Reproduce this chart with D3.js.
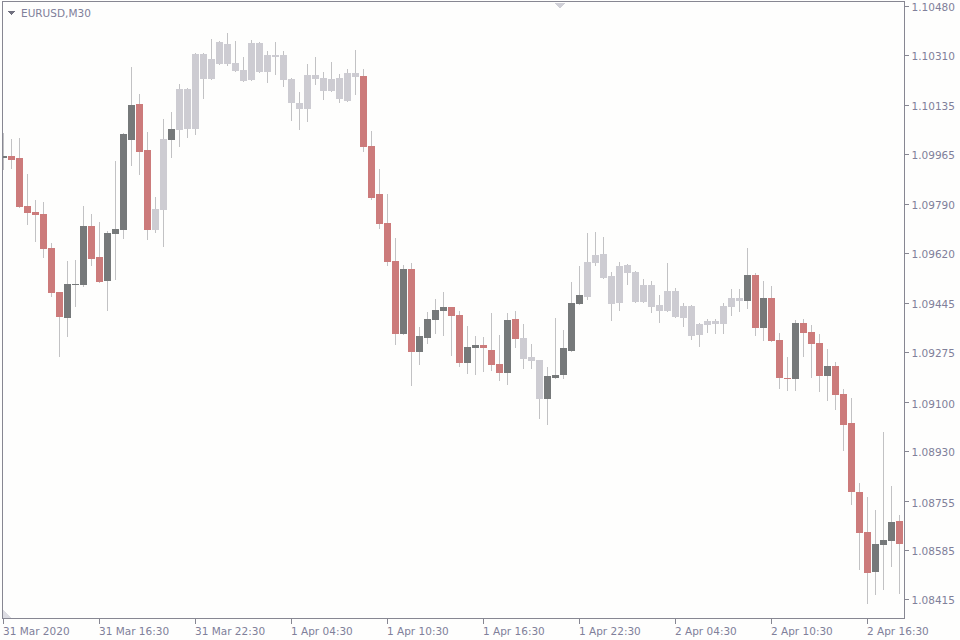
<!DOCTYPE html>
<html>
<head>
<meta charset="utf-8">
<script src="https://cdn.jsdelivr.net/npm/d3@7"></script>
<style>
  html, body { margin: 0; padding: 0; background: #fefefd; }
  svg { display: block; }
  text { font-family: "DejaVu Sans", sans-serif; font-size: 10.5px; fill: #80809a; }
</style>
</head>
<body>
<script>
// EURUSD M30 bars, 31 Mar 10:30 .. 2 Apr 18:30
const opens = [
  1.09951, 1.09958, 1.09951, 1.09784, 1.09763, 1.09756, 1.09637, 1.09484, 1.09394, 1.09508,
  1.09508, 1.09714, 1.09606, 1.09522, 1.09686, 1.09700, 1.10013, 1.10139, 1.09979, 1.09700,
  1.09770, 1.10013, 1.10048, 1.10191, 1.10052, 1.10313, 1.10226, 1.10278, 1.10348, 1.10281,
  1.10257, 1.10222, 1.10351, 1.10250, 1.10309, 1.10309, 1.10226, 1.10142, 1.10121, 1.10240,
  1.10229, 1.10184, 1.10229, 1.10149, 1.10247, 1.10236, 1.09992, 1.09825, 1.09724, 1.09592,
  1.09338, 1.09564, 1.09275, 1.09324, 1.09387, 1.09418, 1.09432, 1.09404, 1.09237, 1.09289,
  1.09300, 1.09282, 1.09233, 1.09202, 1.09390, 1.09324, 1.09258, 1.09247, 1.09112, 1.09185,
  1.09195, 1.09279, 1.09442, 1.09467, 1.09585, 1.09616, 1.09540, 1.09446, 1.09578, 1.09554,
  1.09449, 1.09508, 1.09439, 1.09418, 1.09488, 1.09394, 1.09435, 1.09334, 1.09369, 1.09383,
  1.09373, 1.09432, 1.09463, 1.09453, 1.09543, 1.09359, 1.09463, 1.09317, 1.09185, 1.09181,
  1.09376, 1.09345, 1.09307, 1.09192, 1.09226, 1.09129, 1.09028, 1.08788, 1.08649, 1.08509,
  1.08603, 1.08617, 1.08687
];
const highs = [
  1.10038, 1.10017, 1.10020, 1.09895, 1.09804, 1.09797, 1.09655, 1.09484, 1.09592, 1.09596,
  1.09784, 1.09756, 1.09728, 1.09697, 1.09940, 1.10038, 1.10268, 1.10174, 1.10041, 1.09815,
  1.10086, 1.10111, 1.10208, 1.10194, 1.10316, 1.10316, 1.10365, 1.10358, 1.10386, 1.10358,
  1.10302, 1.10362, 1.10355, 1.10323, 1.10355, 1.10323, 1.10229, 1.10181, 1.10278, 1.10302,
  1.10250, 1.10285, 1.10243, 1.10261, 1.10327, 1.10261, 1.10045, 1.09912, 1.09825, 1.09672,
  1.09578, 1.09585, 1.09362, 1.09414, 1.09460, 1.09484, 1.09432, 1.09418, 1.09366, 1.09331,
  1.09327, 1.09411, 1.09334, 1.09411, 1.09418, 1.09373, 1.09303, 1.09247, 1.09223, 1.09394,
  1.09352, 1.09519, 1.09575, 1.09690, 1.09693, 1.09676, 1.09554, 1.09589, 1.09582, 1.09557,
  1.09529, 1.09522, 1.09474, 1.09585, 1.09498, 1.09446, 1.09439, 1.09376, 1.09390, 1.09390,
  1.09446, 1.09495, 1.09495, 1.09637, 1.09550, 1.09522, 1.09505, 1.09341, 1.09258, 1.09387,
  1.09390, 1.09369, 1.09338, 1.09286, 1.09240, 1.09146, 1.09115, 1.08819, 1.08770, 1.08725,
  1.08997, 1.08809, 1.08708
];
const lows = [
  1.09909, 1.09912, 1.09777, 1.09717, 1.09658, 1.09603, 1.09467, 1.09258, 1.09327, 1.09432,
  1.09502, 1.09575, 1.09515, 1.09418, 1.09526, 1.09669, 1.09923, 1.09891, 1.09665, 1.09690,
  1.09641, 1.09951, 1.09989, 1.10020, 1.10031, 1.10156, 1.10222, 1.10275, 1.10271, 1.10250,
  1.10215, 1.10219, 1.10247, 1.10212, 1.10240, 1.10198, 1.10080, 1.10048, 1.10076, 1.10205,
  1.10153, 1.10181, 1.10142, 1.10146, 1.10170, 1.09972, 1.09804, 1.09703, 1.09575, 1.09300,
  1.09334, 1.09157, 1.09230, 1.09303, 1.09338, 1.09331, 1.09261, 1.09223, 1.09199, 1.09195,
  1.09206, 1.09209, 1.09174, 1.09160, 1.09289, 1.09216, 1.09216, 1.09042, 1.09021, 1.09181,
  1.09181, 1.09275, 1.09439, 1.09456, 1.09575, 1.09529, 1.09383, 1.09418, 1.09508, 1.09446,
  1.09446, 1.09411, 1.09376, 1.09414, 1.09394, 1.09362, 1.09317, 1.09293, 1.09341, 1.09338,
  1.09338, 1.09401, 1.09414, 1.09425, 1.09331, 1.09313, 1.09310, 1.09146, 1.09139, 1.09139,
  1.09258, 1.09185, 1.09136, 1.09105, 1.09073, 1.08930, 1.08742, 1.08516, 1.08398, 1.08429,
  1.08446, 1.08527, 1.08433
];
const closes = [
  1.09958, 1.09944, 1.09780, 1.09759, 1.09752, 1.09634, 1.09481, 1.09397, 1.09512, 1.09512,
  1.09714, 1.09599, 1.09519, 1.09690, 1.09703, 1.10034, 1.10135, 1.09972, 1.09700, 1.09773,
  1.10017, 1.10052, 1.10191, 1.10052, 1.10313, 1.10226, 1.10296, 1.10355, 1.10278, 1.10254,
  1.10219, 1.10351, 1.10250, 1.10309, 1.10302, 1.10222, 1.10142, 1.10121, 1.10240, 1.10226,
  1.10184, 1.10226, 1.10156, 1.10247, 1.10233, 1.09989, 1.09811, 1.09721, 1.09589, 1.09338,
  1.09564, 1.09275, 1.09331, 1.09390, 1.09421, 1.09432, 1.09401, 1.09237, 1.09293, 1.09300,
  1.09289, 1.09230, 1.09202, 1.09387, 1.09320, 1.09251, 1.09244, 1.09112, 1.09192, 1.09195,
  1.09289, 1.09446, 1.09474, 1.09589, 1.09613, 1.09533, 1.09442, 1.09575, 1.09550, 1.09449,
  1.09508, 1.09432, 1.09418, 1.09488, 1.09397, 1.09435, 1.09331, 1.09373, 1.09383, 1.09373,
  1.09435, 1.09463, 1.09453, 1.09543, 1.09359, 1.09463, 1.09313, 1.09185, 1.09181, 1.09376,
  1.09341, 1.09303, 1.09192, 1.09226, 1.09125, 1.09021, 1.08788, 1.08645, 1.08506, 1.08607,
  1.08621, 1.08683, 1.08607
];
// bar colouring state, as runs: [state, number of bars]
const regimeRuns = [
  ["up", 1], ["down", 7], ["up", 3], ["down", 2], ["up", 4], ["down", 2], ["flat", 2], ["up", 1],
  ["flat", 23], ["down", 5], ["up", 1], ["down", 1], ["up", 4], ["down", 2], ["up", 2], ["down", 3],
  ["up", 1], ["down", 1], ["flat", 3], ["up", 5], ["flat", 20], ["up", 1], ["down", 1], ["up", 1],
  ["down", 3], ["up", 1], ["down", 3], ["up", 1], ["down", 5], ["up", 3], ["down", 1]
];
const priceTicks = [1.10480, 1.10310, 1.10135, 1.09965, 1.09790, 1.09620, 1.09445,
                    1.09275, 1.09100, 1.08930, 1.08755, 1.08585, 1.08415];
const timeTickBars = [0, 12, 24, 36, 48, 60, 72, 84, 96, 108];
const timeTickLabels = ["31 Mar 2020", "31 Mar 16:30", "31 Mar 22:30", "1 Apr 04:30", "1 Apr 10:30",
                        "1 Apr 16:30", "1 Apr 22:30", "2 Apr 04:30", "2 Apr 10:30", "2 Apr 16:30"];

const regime = regimeRuns.flatMap(([s, n]) => Array(n).fill(s));
const bars = opens.map((o, i) => ({ i, o, h: highs[i], l: lows[i], c: closes[i], state: regime[i] }));

const width = 960, height = 640;
const frame = { left: 2, top: 2, right: 905, bottom: 618 };
const colors = { up: "#76797a", down: "#cc7b7b", flat: "#cdccd2", wick: "#c2c2c4", frame: "#878792" };

const x = d3.scaleLinear().domain([0, bars.length - 1]).range([3.5, 3.5 + 8 * (bars.length - 1)]);
const y = d3.scaleLinear().domain([1.08415, 1.10480]).range([599, 6]);

const svg = d3.select("body").append("svg")
    .attr("width", width).attr("height", height)
    .attr("shape-rendering", "crispEdges");

svg.append("rect").attr("width", width).attr("height", height).attr("fill", "#fefefd");

svg.append("clipPath").attr("id", "plot")
  .append("rect")
    .attr("x", frame.left + 1).attr("y", frame.top)
    .attr("width", frame.right - frame.left - 2).attr("height", frame.bottom - frame.top);

const g = svg.append("g").attr("clip-path", "url(#plot)");

// wicks
g.append("g").selectAll("line")
  .data(bars)
  .join("line")
    .attr("x1", d => x(d.i)).attr("x2", d => x(d.i))
    .attr("y1", d => Math.round(y(d.h)))
    .attr("y2", d => Math.round(y(d.l)))
    .attr("stroke", colors.wick);

// bodies
g.append("g").selectAll("rect")
  .data(bars)
  .join("rect")
    .attr("x", d => x(d.i) - 3.5)
    .attr("width", 7)
    .attr("y", d => Math.round(y(Math.max(d.o, d.c))))
    .attr("height", d => Math.max(1, Math.round(y(Math.min(d.o, d.c))) - Math.round(y(Math.max(d.o, d.c)))))
    .attr("fill", d => colors[d.state]);

// frame
const fr = svg.append("g").attr("stroke", colors.frame);
fr.append("line").attr("x1", frame.left).attr("x2", frame.right).attr("y1", frame.top - 0.5).attr("y2", frame.top - 0.5);
fr.append("line").attr("x1", frame.left + 0.5).attr("x2", frame.left + 0.5).attr("y1", frame.top).attr("y2", frame.bottom);
fr.append("line").attr("x1", frame.right - 0.5).attr("x2", frame.right - 0.5).attr("y1", frame.top - 1).attr("y2", frame.bottom + 1);
fr.append("line").attr("x1", frame.left).attr("x2", frame.right).attr("y1", frame.bottom + 0.5).attr("y2", frame.bottom + 0.5);

// price axis
const ay = svg.append("g")
    .attr("transform", `translate(${frame.right - 0.5},0)`)
    .call(d3.axisRight(y).tickValues(priceTicks).tickFormat(d3.format(".5f")).tickSize(4).tickSizeOuter(0));
ay.select(".domain").remove();
ay.selectAll("line").attr("stroke", colors.frame);
ay.selectAll("text").attr("dy", "0.45em").attr("x", 7).attr("fill", null);

// time axis
const ax = svg.append("g")
    .attr("transform", `translate(0,${frame.bottom + 0.5})`)
    .call(d3.axisBottom(x).tickValues(timeTickBars).tickFormat((d, i) => timeTickLabels[i]).tickSize(5).tickSizeOuter(0).offset(0));
ax.select(".domain").remove();
ax.selectAll("line").attr("stroke", colors.frame);
ax.selectAll("text").attr("text-anchor", "start").attr("dy", null).attr("y", 16.5).attr("x", -0.5).attr("fill", null);
ax.attr("font-family", null).attr("font-size", null);
ay.attr("font-family", null).attr("font-size", null);

// symbol caption
svg.append("path").attr("d", "M7,11L15,11L11,15Z").attr("fill", "#71717f").attr("shape-rendering", null);
svg.append("text").attr("x", 21).attr("y", 17).text("EURUSD,M30");

// small markers
svg.append("path").attr("d", "M554,3L565,3L559.5,8.5Z").attr("fill", "#d0d0d7").attr("shape-rendering", null);
svg.append("path").attr("d", "M3,610L3,618L11,618Z").attr("fill", "#dcdce2").attr("shape-rendering", null);
</script>
</body>
</html>
